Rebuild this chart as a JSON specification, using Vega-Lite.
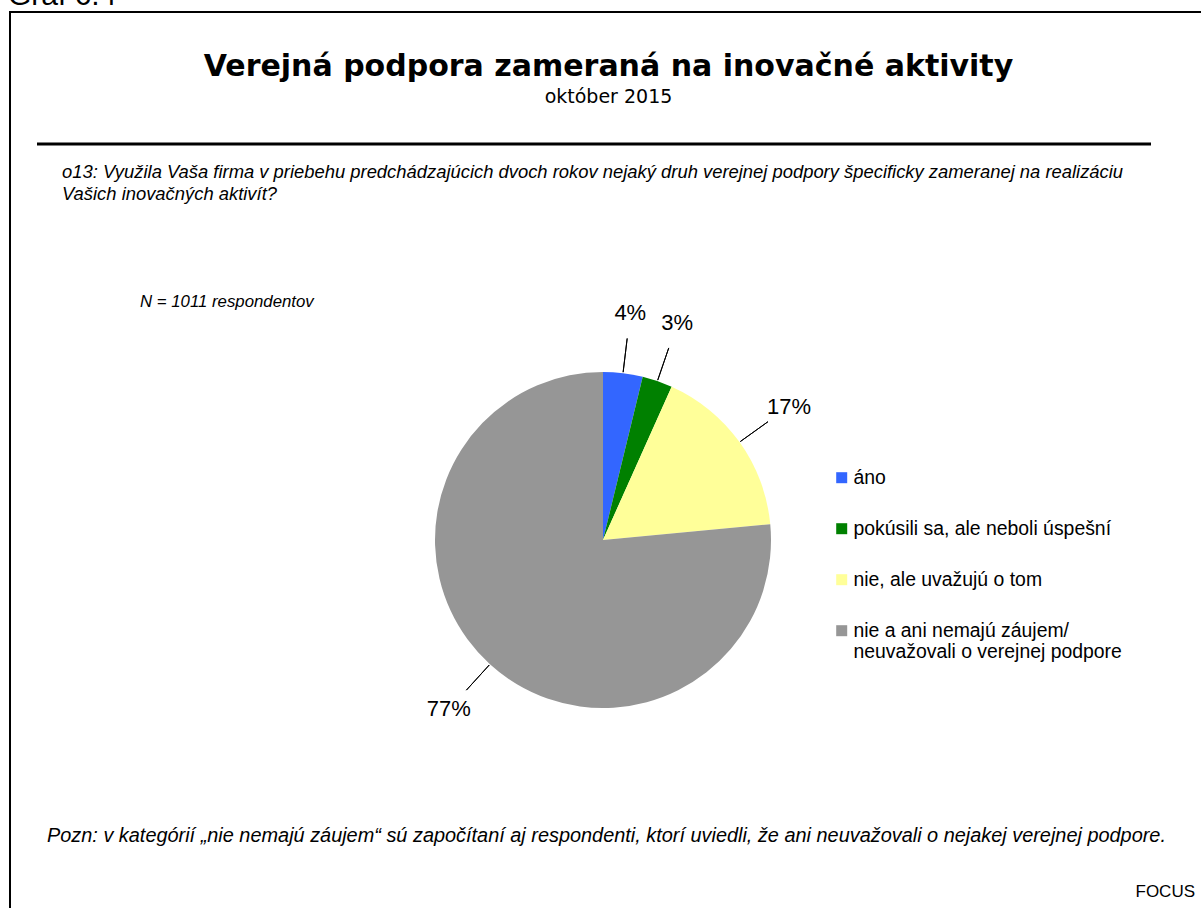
{
  "$schema": "https://vega.github.io/schema/vega-lite/v6.json",
  "width": 1191,
  "height": 896,
  "autosize": {"type": "none"},
  "padding": {"left": 10, "top": 12, "right": 0, "bottom": 0},
  "background": "white",
  "config": {"view": {"stroke": null}},
  "title": {
    "text": "Verejná podpora zameraná na inovačné aktivity",
    "subtitle": "október 2015",
    "font": "DejaVu Sans",
    "fontSize": 30,
    "fontWeight": "bold",
    "color": "black",
    "subtitleFont": "DejaVu Sans",
    "subtitleFontSize": 19,
    "subtitleColor": "black",
    "subtitlePadding": 6,
    "anchor": "middle",
    "frame": "group",
    "offset": -126,
    "dx": 3
  },
  "data": {
    "values": [
      {"i": 1, "cat": "áno", "value": 3.8, "label": "4%"},
      {"i": 2, "cat": "pokúsili sa, ale neboli úspešní", "value": 2.9, "label": "3%"},
      {"i": 3, "cat": "nie, ale uvažujú o tom", "value": 16.8, "label": "17%"},
      {"i": 4, "cat": "nie a ani nemajú záujem/neuvažovali o verejnej podpore", "value": 76.5, "label": "77%"}
    ]
  },
  "layer": [
    {
      "data": {"values": [{}]},
      "mark": {"type": "rect", "filled": false, "stroke": "black", "strokeWidth": 2},
      "encoding": {
        "x": {"value": 0},
        "x2": {"value": 1196},
        "y": {"value": 0},
        "y2": {"value": 902}
      }
    },
    {
      "transform": [{"stack": "value", "groupby": [], "sort": [{"field": "i", "order": "ascending"}], "as": ["v0", "v1"]}],
      "mark": {"type": "arc", "radius": 168, "x": 593, "y": 528},
      "encoding": {
        "theta": {"field": "v0", "type": "quantitative", "stack": null, "scale": {"domain": [0, 100]}},
        "theta2": {"field": "v1"},
        "color": {
          "field": "cat",
          "type": "nominal",
          "scale": {
            "domain": ["áno", "pokúsili sa, ale neboli úspešní", "nie, ale uvažujú o tom", "nie a ani nemajú záujem/neuvažovali o verejnej podpore"],
            "range": ["#3366FF", "#008000", "#FFFF99", "#969696"]
          },
          "legend": {
            "title": null,
            "orient": "none",
            "legendX": 822,
            "legendY": 456,
            "padding": 0,
            "symbolType": "square",
            "symbolSize": 121,
            "symbolStrokeWidth": 0,
            "symbolOpacity": 1,
            "labelFont": "Liberation Sans",
            "labelFontSize": 19.4,
            "labelColor": "black",
            "labelOffset": 2,
            "labelLimit": 500,
            "rowPadding": 30,
            "labelExpr": "datum.label == 'nie a ani nemajú záujem/neuvažovali o verejnej podpore' ? ['nie a ani nemajú záujem/', 'neuvažovali o verejnej podpore'] : datum.label"
          }
        }
      }
    },
    {
      "transform": [{"stack": "value", "groupby": [], "sort": [{"field": "i", "order": "ascending"}], "as": ["v0", "v1"]}],
      "mark": {
        "type": "arc",
        "x": 593,
        "y": 528,
        "radius": 203,
        "radius2": 169,
        "theta": {"expr": "PI*(datum.v0+datum.v1)/100"},
        "theta2": {"expr": "PI*(datum.v0+datum.v1)/100"},
        "filled": false,
        "stroke": "black",
        "strokeWidth": 1
      },
      "encoding": {}
    },
    {
      "transform": [{"stack": "value", "groupby": [], "sort": [{"field": "i", "order": "ascending"}], "as": ["v0", "v1"]}],
      "mark": {
        "type": "text",
        "x": 593,
        "y": 528,
        "radius": 229,
        "theta": {"expr": "PI*(datum.v0+datum.v1)/100"},
        "font": "Liberation Sans",
        "fontSize": 22,
        "align": "center",
        "baseline": "middle",
        "color": "black"
      },
      "encoding": {"text": {"field": "label"}}
    },
    {
      "data": {"values": [{}]},
      "mark": {"type": "rule", "strokeWidth": 3, "color": "black"},
      "encoding": {
        "x": {"value": 27},
        "x2": {"value": 1141},
        "y": {"value": 132}
      }
    },
    {
      "data": {"values": [{}]},
      "mark": {
        "type": "text",
        "x": 52,
        "y": 166,
        "align": "left",
        "baseline": "alphabetic",
        "font": "Liberation Sans",
        "fontStyle": "italic",
        "fontSize": 18.4,
        "lineHeight": 22,
        "color": "black",
        "text": ["o13: Využila Vaša firma v priebehu predchádzajúcich dvoch rokov nejaký druh verejnej podpory špecificky zameranej na realizáciu", "Vašich inovačných aktivít?"]
      },
      "encoding": {}
    },
    {
      "data": {"values": [{}]},
      "mark": {
        "type": "text",
        "x": 130,
        "y": 295,
        "align": "left",
        "baseline": "alphabetic",
        "font": "Liberation Sans",
        "fontStyle": "italic",
        "fontSize": 16.8,
        "color": "black",
        "text": "N = 1011 respondentov"
      },
      "encoding": {}
    },
    {
      "data": {"values": [{}]},
      "mark": {
        "type": "text",
        "x": 37,
        "y": 830,
        "align": "left",
        "baseline": "alphabetic",
        "font": "Liberation Sans",
        "fontStyle": "italic",
        "fontSize": 19.9,
        "color": "black",
        "text": "Pozn: v kategórií „nie nemajú záujem“ sú započítaní aj respondenti, ktorí uviedli, že ani neuvažovali o nejakej verejnej podpore."
      },
      "encoding": {}
    },
    {
      "data": {"values": [{}]},
      "mark": {
        "type": "text",
        "x": 1185,
        "y": 885,
        "align": "right",
        "baseline": "alphabetic",
        "font": "Liberation Sans",
        "fontSize": 17,
        "color": "black",
        "text": "FOCUS"
      },
      "encoding": {}
    },
    {
      "data": {"values": [{}]},
      "mark": {
        "type": "text",
        "x": -2,
        "y": -7,
        "align": "left",
        "baseline": "alphabetic",
        "font": "Liberation Sans",
        "fontSize": 30,
        "color": "black",
        "text": "Graf 6.4"
      },
      "encoding": {}
    }
  ]
}
